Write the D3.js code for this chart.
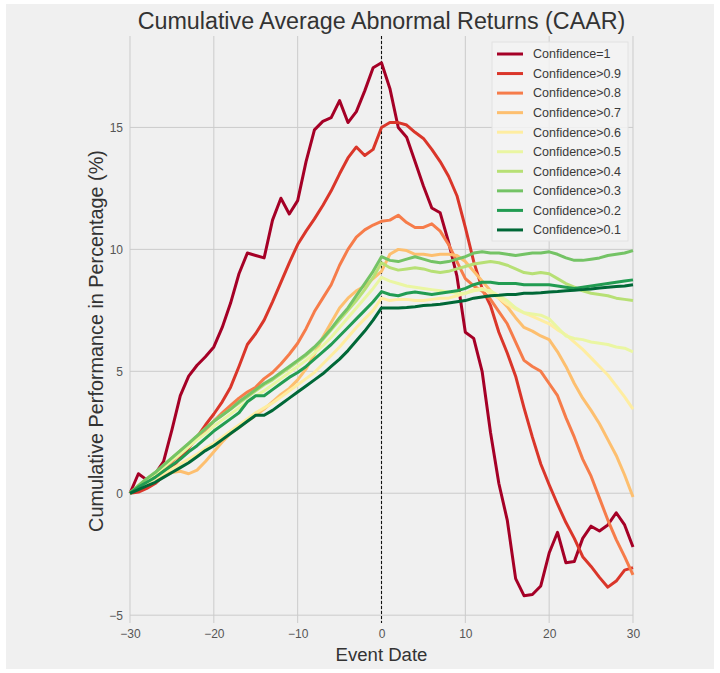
<!DOCTYPE html>
<html>
<head>
<meta charset="utf-8">
<script src="https://cdn.jsdelivr.net/npm/d3@7"></script>
<style>
  html, body { margin: 0; padding: 0; background: #ffffff; }
  svg { display: block; }
</style>
</head>
<body>
<svg id="chart" width="720" height="673"></svg>
<script>
// Event window: days relative to the announcement
const eventDays = d3.range(-30, 31);

const seriesNames = [
  "Confidence=1", "Confidence>0.9", "Confidence>0.8", "Confidence>0.7", "Confidence>0.6",
  "Confidence>0.5", "Confidence>0.4", "Confidence>0.3", "Confidence>0.2", "Confidence>0.1"
];
const seriesColors = [
  "#a50026", "#da362a", "#f67c4a", "#fdbf6f", "#feeda1",
  "#eaf6a2", "#b7e075", "#74c365", "#229c52", "#006837"
];

// CAAR (%) for each confidence bucket, day -30 .. +30
const caarConf10 = [
  0.0, 0.8, 0.55, 0.8, 1.3, 2.6, 4.0, 4.8, 5.25, 5.6, 6.0, 6.8, 7.8, 9.0, 9.85, 9.75,
  9.65, 11.2, 12.1, 11.45, 12.0, 13.6, 14.9, 15.25, 15.4, 16.1, 15.2, 15.65, 16.5, 17.45, 17.65,
  16.6, 15.0, 14.6, 13.6, 12.6, 11.7, 11.5, 10.3, 8.9, 6.6, 6.35, 5.0, 2.5, 0.4, -1.1,
  -3.5, -4.2, -4.15, -3.8, -2.45, -1.6, -2.85, -2.8, -1.85, -1.35, -1.55, -1.3, -0.8, -1.3, -2.2
];
const caarConf09 = [
  0.0, 0.05, 0.2, 0.4, 0.7, 1.05, 1.45, 1.85, 2.3, 2.8, 3.25, 3.75, 4.35, 5.2, 6.1, 6.55,
  7.1, 7.85, 8.65, 9.45, 10.2, 10.75, 11.25, 11.8, 12.4, 13.1, 13.75, 14.2, 13.85, 14.1, 15.0,
  15.2, 15.2, 15.1, 14.8, 14.55, 14.1, 13.6, 13.0, 12.2, 10.9, 9.5, 8.4, 7.7, 6.6, 5.75,
  4.8, 3.5, 2.3, 1.2, 0.35, -0.45, -1.2, -1.85, -2.6, -3.0, -3.45, -3.85, -3.6, -3.15, -3.05
];
const caarConf08 = [
  0.0, 0.3, 0.5, 0.75, 1.0, 1.3, 1.6, 1.9, 2.25, 2.6, 2.95, 3.3, 3.6, 3.9, 4.15, 4.35,
  4.7, 4.95, 5.3, 5.7, 6.15, 6.75, 7.45, 8.0, 8.55, 9.35, 10.0, 10.5, 10.8, 11.0, 11.15,
  11.2, 11.4, 11.1, 10.9, 10.9, 11.05, 10.75, 10.2, 9.5, 8.8, 8.5, 8.3, 7.95, 7.45, 6.95,
  6.2, 5.45, 5.2, 5.0, 4.5, 4.0, 3.1, 2.3, 1.4, 0.7, -0.2, -1.1, -1.9, -2.6, -3.35
];
const caarConf07 = [
  0.0, 0.3, 0.5, 0.6, 0.7, 0.85, 0.9, 0.8, 0.95, 1.3, 1.7, 2.1, 2.45, 2.7, 2.95, 3.2,
  3.45, 3.75, 4.05, 4.3, 4.65, 5.1, 5.7, 6.4, 7.0, 7.6, 8.0, 8.3, 8.5, 8.8, 9.1,
  9.8, 10.0, 9.95, 9.8, 9.8, 9.75, 9.8, 9.8, 9.75, 9.5, 9.1, 8.7, 8.3, 8.0, 7.65,
  7.2, 6.8, 6.65, 6.45, 6.3, 5.8, 5.2, 4.5, 3.9, 3.4, 2.85, 2.2, 1.55, 0.75, -0.15
];
const caarConf06 = [
  0.0, 0.2, 0.4, 0.6, 0.8, 1.0, 1.2, 1.4, 1.6, 1.85, 2.05, 2.3, 2.55, 2.8, 3.05, 3.3,
  3.5, 3.7, 3.95, 4.2, 4.45, 4.7, 4.95, 5.3, 5.65, 6.0, 6.4, 6.8, 7.15, 7.5, 8.0,
  7.9, 7.95, 7.95, 7.9, 7.9, 7.95, 8.0, 8.0, 8.1, 8.2, 8.35, 8.4, 8.2, 8.0, 7.75,
  7.55, 7.4, 7.25, 7.1, 6.95, 6.7, 6.5, 6.2, 5.9, 5.55, 5.2, 4.85, 4.4, 3.95, 3.45
];
const caarConf05 = [
  0.0, 0.3, 0.55, 0.8, 1.05, 1.35, 1.6, 1.9, 2.2, 2.45, 2.75, 3.0, 3.25, 3.5, 3.75, 4.0,
  4.2, 4.45, 4.7, 4.95, 5.2, 5.45, 5.75, 6.05, 6.4, 6.8, 7.2, 7.6, 8.0, 8.4, 8.85,
  8.7, 8.6, 8.5, 8.45, 8.4, 8.35, 8.3, 8.25, 8.2, 8.2, 8.3, 8.35, 8.3, 8.1, 7.9,
  7.6, 7.4, 7.35, 7.3, 7.15, 6.8, 6.45, 6.35, 6.3, 6.2, 6.15, 6.1, 6.0, 5.95, 5.8
];
const caarConf04 = [
  0.0, 0.32, 0.6, 0.85, 1.15, 1.45, 1.75, 2.05, 2.35, 2.65, 2.95, 3.2, 3.45, 3.7, 3.95, 4.2,
  4.45, 4.65, 4.9, 5.15, 5.4, 5.65, 5.95, 6.3, 6.7, 7.1, 7.5, 7.9, 8.35, 8.85, 9.45,
  9.25, 9.15, 9.2, 9.25, 9.2, 9.1, 9.05, 9.1, 9.2, 9.3, 9.4, 9.45, 9.5, 9.45, 9.35,
  9.2, 9.05, 9.0, 9.05, 9.0, 8.8, 8.6, 8.45, 8.3, 8.2, 8.15, 8.1, 8.0, 7.95, 7.9
];
const caarConf03 = [
  0.0, 0.3, 0.6, 0.85, 1.15, 1.45, 1.75, 2.05, 2.35, 2.65, 2.95, 3.2, 3.45, 3.75, 4.0, 4.25,
  4.5, 4.7, 4.95, 5.2, 5.45, 5.7, 6.0, 6.35, 6.75, 7.2, 7.6, 8.1, 8.6, 9.1, 9.7,
  9.55, 9.5, 9.6, 9.7, 9.6, 9.5, 9.45, 9.5, 9.6, 9.7, 9.85, 9.9, 9.85, 9.85, 9.8,
  9.75, 9.8, 9.85, 9.85, 9.9, 9.8, 9.65, 9.55, 9.55, 9.6, 9.65, 9.75, 9.8, 9.85, 9.95
];
const caarConf02 = [
  0.0, 0.25, 0.45, 0.65, 0.9, 1.15, 1.4, 1.7, 1.95, 2.25, 2.55, 2.8, 3.05, 3.3, 3.75, 4.0,
  4.0, 4.25, 4.5, 4.75, 4.95, 5.2, 5.5, 5.8, 6.1, 6.45, 6.8, 7.15, 7.5, 7.85, 8.27,
  8.15, 8.1, 8.2, 8.25, 8.2, 8.15, 8.2, 8.25, 8.3, 8.4, 8.55, 8.65, 8.65, 8.6, 8.6,
  8.6, 8.55, 8.55, 8.55, 8.55, 8.5, 8.45, 8.4, 8.45, 8.5, 8.55, 8.6, 8.65, 8.7, 8.75
];
const caarConf01 = [
  0.0, 0.15, 0.3, 0.45, 0.65, 0.85, 1.05, 1.25, 1.5, 1.75, 1.95, 2.2, 2.45, 2.7, 2.95, 3.2,
  3.2, 3.4, 3.65, 3.9, 4.15, 4.4, 4.65, 4.9, 5.2, 5.5, 5.85, 6.25, 6.65, 7.1, 7.6,
  7.6, 7.6, 7.62, 7.65, 7.7, 7.72, 7.75, 7.8, 7.85, 7.9, 8.0, 8.05, 8.1, 8.12, 8.15,
  8.15, 8.2, 8.2, 8.22, 8.25, 8.27, 8.3, 8.32, 8.35, 8.38, 8.42, 8.45, 8.48, 8.5, 8.55
];

const xTicks = [-30, -20, -10, 0, 10, 20, 30];
const yTicks = [-5, 0, 5, 10, 15];

const titleText = "Cumulative Average Abnormal Returns (CAAR)";
const xLabelText = "Event Date";
const yLabelText = "Cumulative Performance in Percentage (%)";

const allSeries = [
  caarConf10, caarConf09, caarConf08, caarConf07, caarConf06,
  caarConf05, caarConf04, caarConf03, caarConf02, caarConf01
].map((vals, i) => ({
  name: seriesNames[i],
  color: seriesColors[i],
  points: eventDays.map((d, j) => ({ day: d, value: vals[j] }))
}));

// ---- layout ----
const plot = { left: 130, right: 633, top: 36, bottom: 623 };
const FONT = "'Liberation Sans', Arial, Helvetica, sans-serif";

const svg = d3.select("#chart");

// figure background
svg.append("rect")
  .attr("x", 6).attr("y", 4).attr("width", 708).attr("height", 665)
  .attr("fill", "#f0f0f0");

const x = d3.scaleLinear().domain([-30, 30]).range([plot.left, plot.right]);
const y = d3.scaleLinear().domain([-5.32, 18.75]).range([plot.bottom, plot.top]);

const minusFmt = d => (d < 0 ? "\u2212" + Math.abs(d) : String(d));

// grid
const grid = svg.append("g").attr("stroke", "#cbcbcb").attr("stroke-width", 1);
grid.selectAll("line.v").data(xTicks).join("line")
  .attr("x1", d => x(d)).attr("x2", d => x(d))
  .attr("y1", plot.top).attr("y2", plot.bottom);
grid.selectAll("line.h").data(yTicks).join("line")
  .attr("x1", plot.left).attr("x2", plot.right)
  .attr("y1", d => y(d)).attr("y2", d => y(d));

// axes (tick labels only)
const xAxis = svg.append("g")
  .attr("transform", `translate(0,${plot.bottom})`)
  .call(d3.axisBottom(x).tickValues(xTicks).tickSize(0).tickPadding(6).tickFormat(minusFmt));
const yAxis = svg.append("g")
  .attr("transform", `translate(${plot.left},0)`)
  .call(d3.axisLeft(y).tickValues(yTicks).tickSize(0).tickPadding(7).tickFormat(minusFmt));
[xAxis, yAxis].forEach(a => {
  a.select(".domain").remove();
  a.selectAll("text").attr("font-family", FONT).attr("font-size", 12).attr("fill", "#555");
});

// event-date marker
svg.append("line")
  .attr("x1", x(0)).attr("x2", x(0))
  .attr("y1", plot.top).attr("y2", plot.bottom)
  .attr("stroke", "#111").attr("stroke-width", 1.1)
  .attr("stroke-dasharray", "3,2");

// series lines
const line = d3.line().x(d => x(d.day)).y(d => y(d.value));
svg.append("g").selectAll("path").data(allSeries).join("path")
  .attr("d", d => line(d.points))
  .attr("fill", "none")
  .attr("stroke", d => d.color)
  .attr("stroke-width", 3)
  .attr("stroke-linejoin", "round");

// helper: size a text element so it spans a given width
function fitText(sel, baseSize, targetWidth) {
  sel.attr("font-size", baseSize);
  const w = sel.node().getComputedTextLength();
  sel.attr("font-size", baseSize * targetWidth / w);
}

// title
const title = svg.append("text")
  .attr("x", (plot.left + plot.right) / 2).attr("y", 29)
  .attr("text-anchor", "middle")
  .attr("font-family", FONT).attr("fill", "#333")
  .text(titleText);
fitText(title, 24, 488);

// axis labels
const xLabel = svg.append("text")
  .attr("x", (plot.left + plot.right) / 2).attr("y", 661)
  .attr("text-anchor", "middle")
  .attr("font-family", FONT).attr("fill", "#333")
  .text(xLabelText);
fitText(xLabel, 19, 92);

const yLabel = svg.append("text")
  .attr("transform", `translate(103,341) rotate(-90)`)
  .attr("text-anchor", "middle")
  .attr("font-family", FONT).attr("fill", "#333")
  .text(yLabelText);
fitText(yLabel, 19, 382);

// legend
const legend = svg.append("g");
legend.append("rect")
  .attr("x", 492).attr("y", 42).attr("width", 136).attr("height", 199)
  .attr("fill", "#f3f3f3").attr("fill-opacity", 0.85)
  .attr("stroke", "#e2e2e2").attr("stroke-width", 1);
const rowH = 19.55;
const items = legend.selectAll("g.item").data(allSeries).join("g")
  .attr("transform", (d, i) => `translate(0,${54 + i * rowH})`);
items.append("line")
  .attr("x1", 497).attr("x2", 523)
  .attr("stroke", d => d.color).attr("stroke-width", 3);
items.append("text")
  .attr("x", 533).attr("dy", "0.35em")
  .attr("font-family", FONT).attr("font-size", 12.5).attr("fill", "#3a3a3a")
  .text(d => d.name);
</script>
</body>
</html>
